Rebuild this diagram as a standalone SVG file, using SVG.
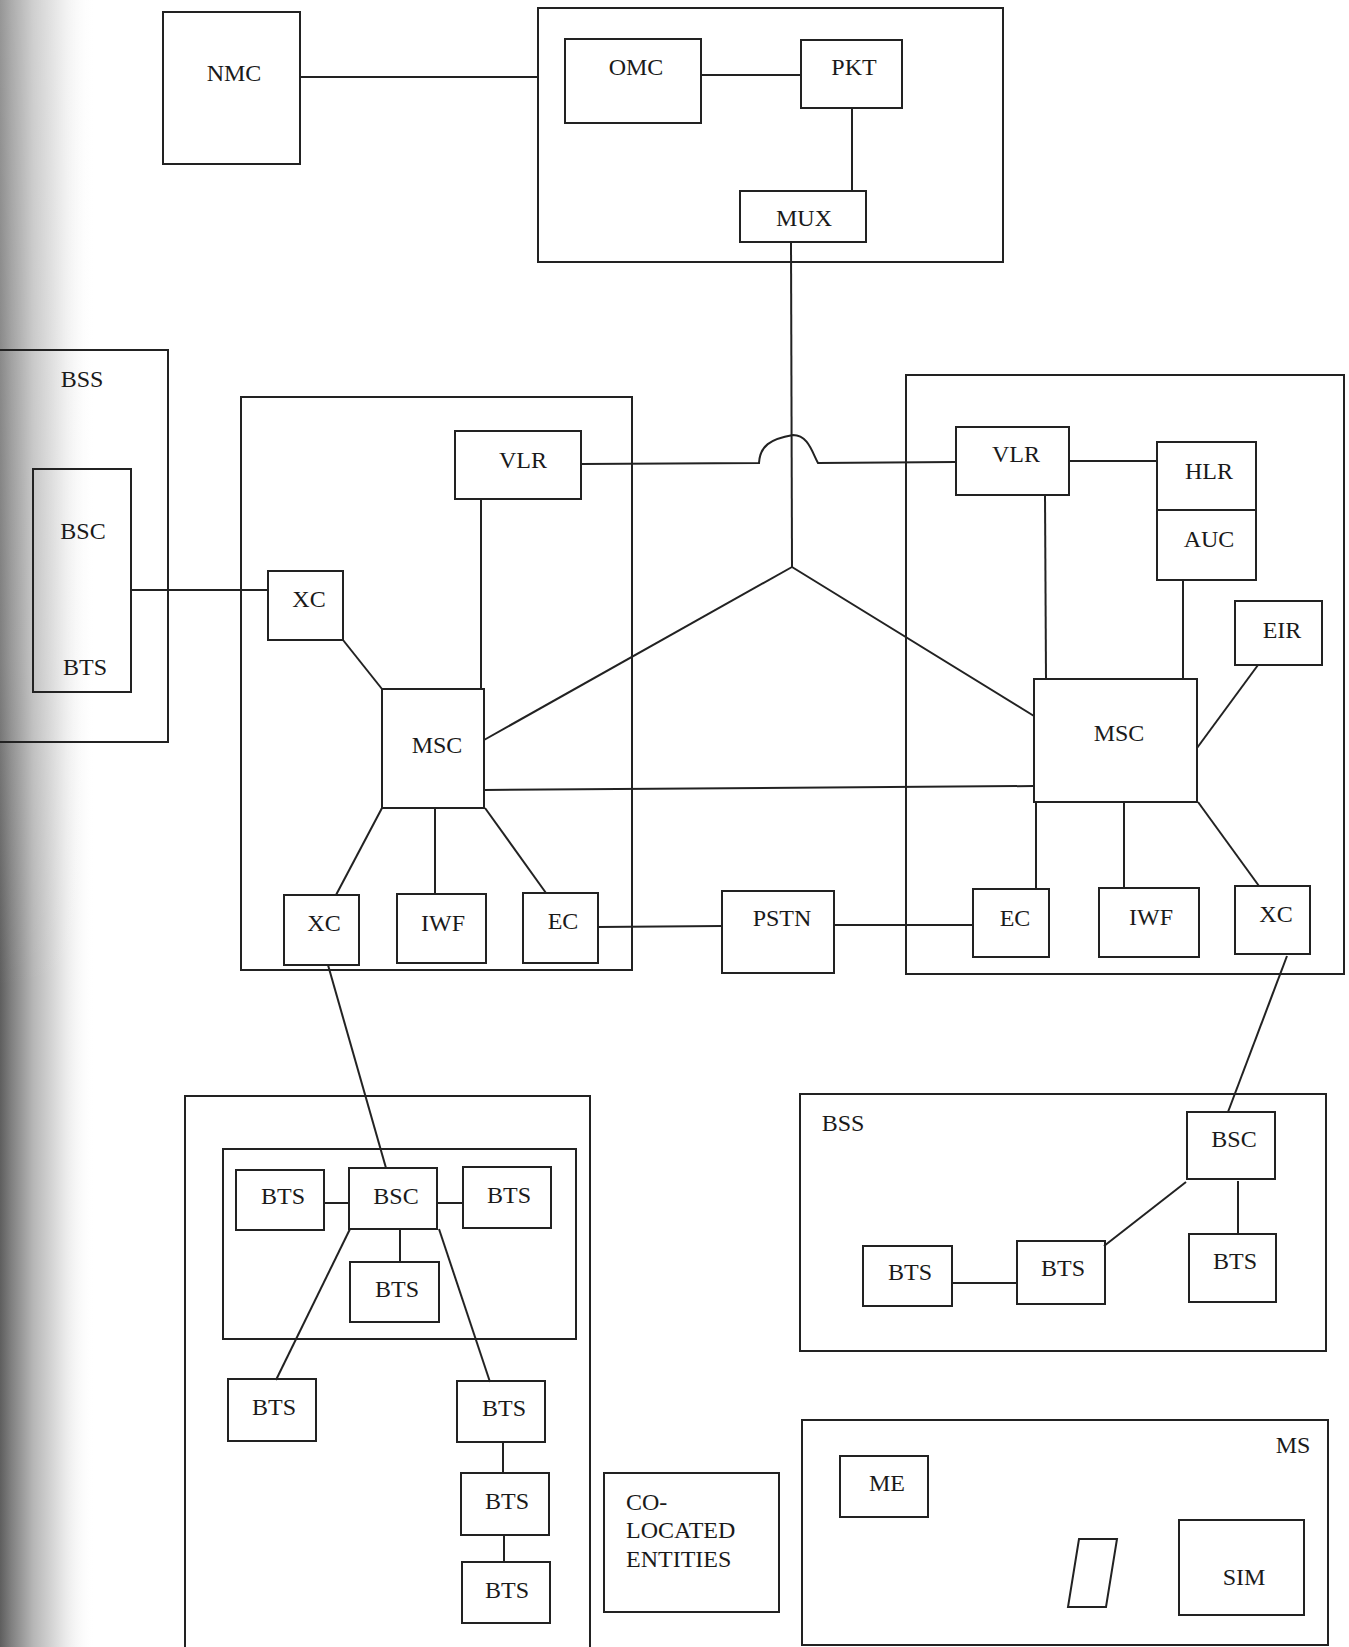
<svg xmlns="http://www.w3.org/2000/svg" width="1349" height="1647" viewBox="0 0 1349 1647">
<style>
.b{fill:none;stroke:#222;stroke-width:2}
.c{fill:none;stroke:#222;stroke-width:2}
text{font-family:"Liberation Serif","Times New Roman",serif;font-size:24px;fill:#1a1a1a;text-anchor:middle;dominant-baseline:central}
.l{text-anchor:start}
</style>
<defs>
<linearGradient id="edge" x1="0" y1="0" x2="1" y2="0">
<stop offset="0" stop-color="#5e5e5e"/>
<stop offset="0.12" stop-color="#808080"/>
<stop offset="0.35" stop-color="#b6b6b6"/>
<stop offset="0.65" stop-color="#e4e4e4"/>
<stop offset="1" stop-color="#ffffff" stop-opacity="0"/>
</linearGradient>
<linearGradient id="fade" x1="0" y1="0" x2="0" y2="1">
<stop offset="0" stop-color="#ffffff" stop-opacity="0.35"/>
<stop offset="0.4" stop-color="#ffffff" stop-opacity="0.2"/>
<stop offset="0.6" stop-color="#ffffff" stop-opacity="0"/>
</linearGradient>
</defs>
<rect width="1349" height="1647" fill="#fff"/>
<rect x="0" y="0" width="95" height="1647" fill="url(#edge)"/>
<rect x="0" y="0" width="95" height="1647" fill="url(#fade)"/>

<g id="groups">
<rect id="grp-omc" class="b" x="538" y="8" width="465" height="254"/>
<rect id="grp-bss-left" class="b" x="-5" y="350" width="173" height="392"/>
<rect id="grp-msc-left" class="b" x="241" y="397" width="391" height="573"/>
<rect id="grp-msc-right" class="b" x="906" y="375" width="438" height="599"/>
<rect id="grp-bss-bottom" class="b" x="185" y="1096" width="405" height="560"/>
<rect id="grp-bss-inner" class="b" x="223" y="1149" width="353" height="190"/>
<rect id="grp-bss-right" class="b" x="800" y="1094" width="526" height="257"/>
<rect id="grp-ms" class="b" x="802" y="1420" width="526" height="225"/>
</g>

<g id="connectors">
<line class="c" x1="300" y1="77" x2="538" y2="77"/>
<line class="c" x1="701" y1="75" x2="801" y2="75"/>
<line class="c" x1="852" y1="108" x2="852" y2="191"/>
<line class="c" x1="791" y1="242" x2="792" y2="567"/>
<line class="c" x1="484" y1="740" x2="792" y2="567"/>
<line class="c" x1="792" y1="567" x2="1034" y2="716"/>
<path class="c" d="M581 464 L759 463 C760 446 770 439 793 435 C808 435 812 452 818 463 L956 462"/>
<line class="c" x1="1069" y1="461" x2="1157" y2="461"/>
<line class="c" x1="481" y1="499" x2="481" y2="689"/>
<line class="c" x1="1045" y1="495" x2="1046" y2="679"/>
<line class="c" x1="1183" y1="580" x2="1183" y2="679"/>
<line class="c" x1="1258" y1="665" x2="1197" y2="748"/>
<line class="c" x1="132" y1="590" x2="268" y2="590"/>
<line class="c" x1="343" y1="640" x2="382" y2="689"/>
<line class="c" x1="484" y1="790" x2="1034" y2="786"/>
<line class="c" x1="382" y1="808" x2="336" y2="895"/>
<line class="c" x1="435" y1="808" x2="435" y2="894"/>
<line class="c" x1="485" y1="808" x2="546" y2="893"/>
<line class="c" x1="1036" y1="802" x2="1036" y2="889"/>
<line class="c" x1="1124" y1="802" x2="1124" y2="888"/>
<line class="c" x1="1198" y1="802" x2="1259" y2="886"/>
<line class="c" x1="598" y1="927" x2="722" y2="926"/>
<line class="c" x1="834" y1="925" x2="973" y2="925"/>
<line class="c" x1="328" y1="965" x2="386" y2="1168"/>
<line class="c" x1="1287" y1="956" x2="1228" y2="1112"/>
<line class="c" x1="324" y1="1203" x2="349" y2="1203"/>
<line class="c" x1="437" y1="1203" x2="463" y2="1203"/>
<line class="c" x1="400" y1="1229" x2="400" y2="1262"/>
<line class="c" x1="350" y1="1229" x2="276" y2="1380"/>
<line class="c" x1="439" y1="1229" x2="490" y2="1382"/>
<line class="c" x1="503" y1="1442" x2="503" y2="1473"/>
<line class="c" x1="504" y1="1535" x2="504" y2="1562"/>
<line class="c" x1="1238" y1="1181" x2="1238" y2="1234"/>
<line class="c" x1="1186" y1="1182" x2="1104" y2="1246"/>
<line class="c" x1="952" y1="1283" x2="1017" y2="1283"/>
</g>

<g id="n-nmc"><rect class="b" x="163" y="12" width="137" height="152"/><text x="234" y="73">NMC</text></g>
<g id="n-omc"><rect class="b" x="565" y="39" width="136" height="84"/><text x="636" y="67">OMC</text></g>
<g id="n-pkt"><rect class="b" x="801" y="40" width="101" height="68"/><text x="854" y="67">PKT</text></g>
<g id="n-mux"><rect class="b" x="740" y="191" width="126" height="51"/><text x="804" y="218">MUX</text></g>

<g id="n-bss-left"><text x="82" y="379">BSS</text></g>
<g id="n-bscbts-left"><rect class="b" x="33" y="469" width="98" height="223"/><text x="83" y="531">BSC</text><text x="85" y="667">BTS</text></g>

<g id="n-xc1"><rect class="b" x="268" y="571" width="75" height="69"/><text x="309" y="599">XC</text></g>
<g id="n-vlr1"><rect class="b" x="455" y="431" width="126" height="68"/><text x="523" y="460">VLR</text></g>
<g id="n-msc1"><rect class="b" x="382" y="689" width="102" height="119"/><text x="437" y="745">MSC</text></g>
<g id="n-xc2"><rect class="b" x="284" y="895" width="75" height="70"/><text x="324" y="923">XC</text></g>
<g id="n-iwf1"><rect class="b" x="397" y="894" width="89" height="69"/><text x="443" y="923">IWF</text></g>
<g id="n-ec1"><rect class="b" x="523" y="893" width="75" height="70"/><text x="563" y="921">EC</text></g>
<g id="n-pstn"><rect class="b" x="722" y="891" width="112" height="82"/><text x="782" y="918">PSTN</text></g>

<g id="n-vlr2"><rect class="b" x="956" y="427" width="113" height="68"/><text x="1016" y="454">VLR</text></g>
<g id="n-hlrauc"><rect class="b" x="1157" y="442" width="99" height="138"/><line class="b" x1="1157" y1="510" x2="1256" y2="510"/><text x="1209" y="471">HLR</text><text x="1209" y="539">AUC</text></g>
<g id="n-eir"><rect class="b" x="1235" y="601" width="87" height="64"/><text x="1282" y="630">EIR</text></g>
<g id="n-msc2"><rect class="b" x="1034" y="679" width="163" height="123"/><text x="1119" y="733">MSC</text></g>
<g id="n-ec2"><rect class="b" x="973" y="889" width="76" height="68"/><text x="1015" y="918">EC</text></g>
<g id="n-iwf2"><rect class="b" x="1099" y="888" width="100" height="69"/><text x="1151" y="917">IWF</text></g>
<g id="n-xc3"><rect class="b" x="1235" y="886" width="75" height="68"/><text x="1276" y="914">XC</text></g>

<g id="n-bts1"><rect class="b" x="236" y="1170" width="88" height="60"/><text x="283" y="1196">BTS</text></g>
<g id="n-bsc1"><rect class="b" x="349" y="1168" width="88" height="61"/><text x="396" y="1196">BSC</text></g>
<g id="n-bts2"><rect class="b" x="463" y="1167" width="88" height="61"/><text x="509" y="1195">BTS</text></g>
<g id="n-bts3"><rect class="b" x="350" y="1262" width="89" height="60"/><text x="397" y="1289">BTS</text></g>
<g id="n-bts4"><rect class="b" x="228" y="1379" width="88" height="62"/><text x="274" y="1407">BTS</text></g>
<g id="n-bts5"><rect class="b" x="457" y="1381" width="88" height="61"/><text x="504" y="1408">BTS</text></g>
<g id="n-bts6"><rect class="b" x="461" y="1473" width="88" height="62"/><text x="507" y="1501">BTS</text></g>
<g id="n-bts7"><rect class="b" x="462" y="1562" width="88" height="61"/><text x="507" y="1590">BTS</text></g>
<g id="n-coloc"><rect class="b" x="604" y="1473" width="175" height="139"/><text class="l" x="626" y="1502">CO-</text><text class="l" x="626" y="1530">LOCATED</text><text class="l" x="626" y="1559">ENTITIES</text></g>

<g id="n-bss-right"><text x="843" y="1123">BSS</text></g>
<g id="n-bsc2"><rect class="b" x="1187" y="1112" width="88" height="67"/><text x="1234" y="1139">BSC</text></g>
<g id="n-bts8"><rect class="b" x="1189" y="1234" width="87" height="68"/><text x="1235" y="1261">BTS</text></g>
<g id="n-bts9"><rect class="b" x="1017" y="1241" width="88" height="63"/><text x="1063" y="1268">BTS</text></g>
<g id="n-bts10"><rect class="b" x="863" y="1246" width="89" height="60"/><text x="910" y="1272">BTS</text></g>

<g id="n-ms"><text x="1293" y="1445">MS</text></g>
<g id="n-me"><rect class="b" x="840" y="1456" width="88" height="61"/><text x="887" y="1483">ME</text></g>
<g id="n-card"><polygon class="b" points="1079,1539 1117,1539 1106,1607 1068,1607"/></g>
<g id="n-sim"><rect class="b" x="1179" y="1520" width="125" height="95"/><text x="1244" y="1577">SIM</text></g>
</svg>
